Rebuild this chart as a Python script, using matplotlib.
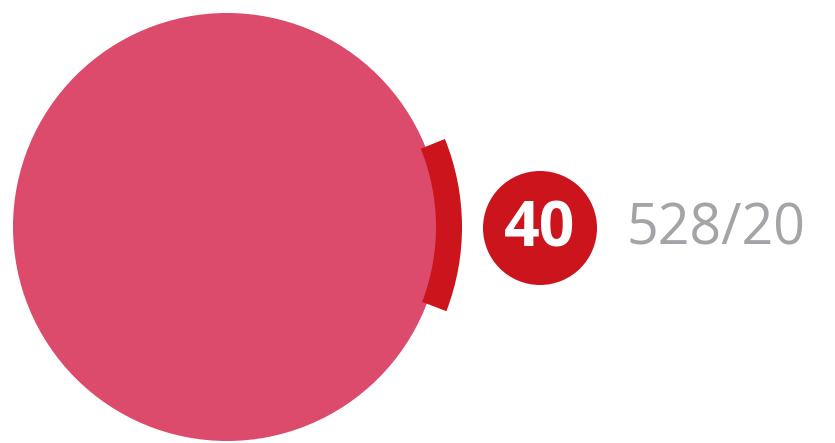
import matplotlib
matplotlib.use("Agg")
import matplotlib.pyplot as plt
from matplotlib.patches import Circle, Wedge

# data
badge_value = "40"
code_label = "528/20"
arc_span_deg = [-22, 21]

swatch_color = "#dc4a6c"
accent_color = "#cc141d"
label_color = "#a3a3a8"

fig = plt.figure(figsize=(8.35, 4.43), dpi=100)
ax = fig.add_axes([0, 0, 1, 1])
ax.set_xlim(0, 835)
ax.set_ylim(443, 0)
ax.set_aspect("equal")
ax.axis("off")

cx, cy, r = 227, 227, 214
ax.add_patch(Circle((cx, cy), r, color=swatch_color, lw=0))

# accent arc (y axis inverted: angles mirrored)
ax.add_patch(Wedge((cx, cy), 235, arc_span_deg[0], arc_span_deg[1], width=26,
                   color=accent_color, lw=0))

# badge
ax.add_patch(Circle((540, 228), 57, color=accent_color, lw=0))
ax.text(540, 230, badge_value, color="white", fontsize=45, fontweight="bold",
        family="Open Sans", ha="center", va="center")

ax.text(626, 230, code_label, color=label_color, fontsize=40,
        family="Open Sans", ha="left", va="center")

fig.savefig("out.png", dpi=100, facecolor="white")
